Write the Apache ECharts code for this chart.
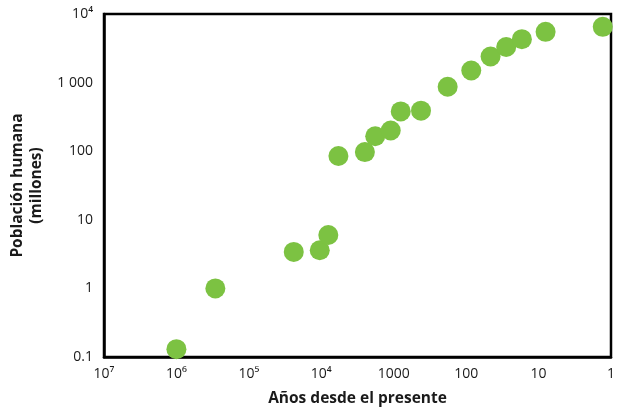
<!DOCTYPE html>
<html>
<head>
<meta charset="utf-8">
<script src="https://cdn.jsdelivr.net/npm/echarts@6/dist/echarts.min.js"></script>
<style>html,body{margin:0;padding:0;background:#fff}#c{width:618px;height:412px}</style>
</head>
<body>
<div id="c"></div>
<script>
// Years before present
var years = [1000000, 290000, 24000, 10500, 8000, 5800, 2500, 1800, 1100, 800, 420, 180, 85, 46, 28, 17, 8, 1.3];
// Human population (millions)
var population = [0.13, 1.0, 3.4, 3.6, 6.0, 85, 97, 165, 200, 380, 390, 870, 1500, 2400, 3300, 4300, 5500, 6500];
// Tick labels (by decade exponent)
var xTickExp = [0, 1, 2, 3, 4, 5, 6, 7];
var xTickLabels = ['1', '10', '100', '1000', '10\u2074', '10\u2075', '10\u2076', '10\u2077'];
var yTickExp = [-1, 0, 1, 2, 3, 4];
var yTickLabels = ['0.1', '1', '10', '100', '1 000', '10\u2074'];

function lookup(exps, labels) {
  return function (v) {
    var e = Math.round(Math.log10(v));
    var i = exps.indexOf(e);
    return i >= 0 ? labels[i] : '';
  };
}

var pts = years.map(function (y, i) { return [y, population[i]]; });
var FONT = '"Open Sans", "Noto Sans", sans-serif';

var chart = echarts.init(document.getElementById('c'), null, {renderer: 'canvas'});
chart.setOption({
  animation: false,
  backgroundColor: '#fff',
  grid: {left: 104, right: 4, top: 14, bottom: 53, show: true, borderColor: '#000', borderWidth: 2.5, backgroundColor: 'transparent'},
  xAxis: {
    type: 'log', logBase: 10, min: 1, max: 10000000, inverse: true,
    name: 'Años desde el presente', nameLocation: 'middle', nameGap: 34,
    nameTextStyle: {fontFamily: FONT, fontWeight: 'bold', fontSize: 15.5, color: '#1a1a1a'},
    axisLine: {lineStyle: {color: '#000', width: 2.5}},
    axisTick: {show: false},
    splitLine: {show: false},
    minorTick: {show: false},
    axisLabel: {formatter: lookup(xTickExp, xTickLabels), fontFamily: FONT, fontSize: 14, color: '#1a1a1a', margin: 10, showMinLabel: true, showMaxLabel: true}
  },
  yAxis: {
    type: 'log', logBase: 10, min: 0.1, max: 10000,
    name: 'Población humana\n(millones)', nameLocation: 'middle', nameGap: 58, nameRotate: 90,
    nameTextStyle: {fontFamily: FONT, fontWeight: 'bold', fontSize: 15.5, color: '#1a1a1a', lineHeight: 19, align: 'center'},
    axisLine: {lineStyle: {color: '#000', width: 2.5}},
    axisTick: {show: false},
    splitLine: {show: false},
    axisLabel: {formatter: lookup(yTickExp, yTickLabels), fontFamily: FONT, fontSize: 14, color: '#1a1a1a', margin: 11}
  },
  series: [{
    type: 'scatter',
    data: pts,
    symbol: 'circle',
    symbolSize: 20,
    itemStyle: {color: '#7cc242', opacity: 1},
    clip: false
  }]
});
</script>
</body>
</html>
